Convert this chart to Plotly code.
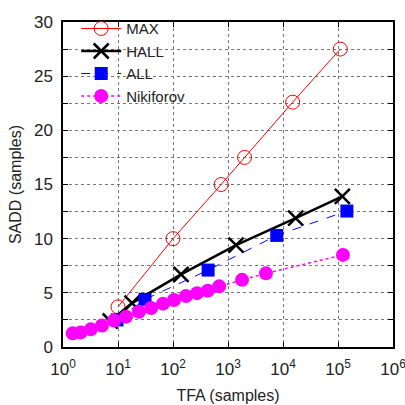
import plotly.graph_objects as go

max_x = [10, 100, 750, 2000, 15000, 110000]
max_y = [3.7, 10, 15, 17.5, 22.6, 27.5]
hall_x = [7.2, 18, 140, 1400, 17000, 120000]
hall_y = [2.4, 4.05, 6.7, 9.4, 11.9, 13.9]
all_x = [9.6, 31, 435, 7700, 145000]
all_y = [2.5, 4.4, 7.1, 10.3, 12.55]
nik_x = [1.5, 2.1, 3.2, 5.1, 8.5, 14, 24, 40, 66, 104, 172, 274, 430, 690, 1800, 4900, 123000]
nik_y = [1.26, 1.35, 1.63, 1.99, 2.44, 2.8, 3.25, 3.6, 4.0, 4.34, 4.7, 4.97, 5.2, 5.6, 6.2, 6.8, 8.5]

x_tickvals = [1, 10, 100, 1000, 10000, 100000, 1000000]
x_ticktext = ["10<sup>%d</sup>" % i for i in range(7)]
y_tickvals = [i * 2.5 for i in range(13)]
y_ticktext = [("%d" % v) if v % 5 == 0 else "" for v in y_tickvals]

FONT = "Liberation Sans, Arial, sans-serif"

fig = go.Figure()
fig.add_trace(go.Scatter(x=max_x, y=max_y, name="MAX", mode="lines+markers",
                         line=dict(color="#ff0000", width=1),
                         marker=dict(symbol="circle-open", size=14, color="#ff0000", line=dict(width=1))))
fig.add_trace(go.Scatter(x=hall_x, y=hall_y, name="HALL", mode="lines+markers",
                         line=dict(color="black", width=2.5),
                         marker=dict(symbol="x-thin-open", size=15, color="black", line=dict(width=2.5, color="black"))))
fig.add_trace(go.Scatter(x=all_x, y=all_y, name="ALL", mode="lines+markers",
                         line=dict(color="#0000ff", width=1, dash="dash"),
                         marker=dict(symbol="square", size=13, color="#0000ff")))
fig.add_trace(go.Scatter(x=nik_x, y=nik_y, name="Nikiforov", mode="lines+markers",
                         line=dict(color="#ff00ff", width=1.5, dash="dot"),
                         marker=dict(symbol="circle", size=14, color="#ff00ff")))

fig.add_shape(type="rect", xref="paper", yref="paper", x0=0, x1=0.436, y0=0.745, y1=1,
              fillcolor="white", line=dict(width=0), layer="between")

fig.update_layout(
    width=405, height=405,
    margin=dict(l=63, r=12, t=15, b=58),
    paper_bgcolor="white", plot_bgcolor="white",
    font=dict(family=FONT, size=16, color="#222"),
    showlegend=True,
    legend=dict(x=0.04, y=1.03, xanchor="left", yanchor="top",
                bgcolor="rgba(255,255,255,0)", borderwidth=0,
                font=dict(family=FONT, size=15, color="#222"),
                itemwidth=40, tracegroupgap=0),
    xaxis=dict(type="log", range=[0, 6], tickvals=x_tickvals, ticktext=x_ticktext,
               showgrid=True, gridcolor="#777", griddash="dot", gridwidth=1,
               ticks="inside", ticklen=5, tickcolor="black", mirror="allticks",
               showline=True, linecolor="black", linewidth=1.5, zeroline=False,
               tickfont=dict(size=17), ticklabelstandoff=6, automargin=False,
               ticklabeloverflow="allow",
               title=dict(text="TFA (samples)", font=dict(size=16), standoff=12)),
    yaxis=dict(range=[0, 30], tickvals=y_tickvals, ticktext=y_ticktext,
               showgrid=True, gridcolor="#777", griddash="dot", gridwidth=1,
               ticks="inside", ticklen=5, tickcolor="black", mirror="allticks",
               showline=True, linecolor="black", linewidth=1.5, zeroline=False,
               tickfont=dict(size=17), ticklabelstandoff=5, automargin=False,
               ticklabeloverflow="allow",
               title=dict(text="SADD (samples)", font=dict(size=16), standoff=8)),
)

fig.write_html("out.html")
